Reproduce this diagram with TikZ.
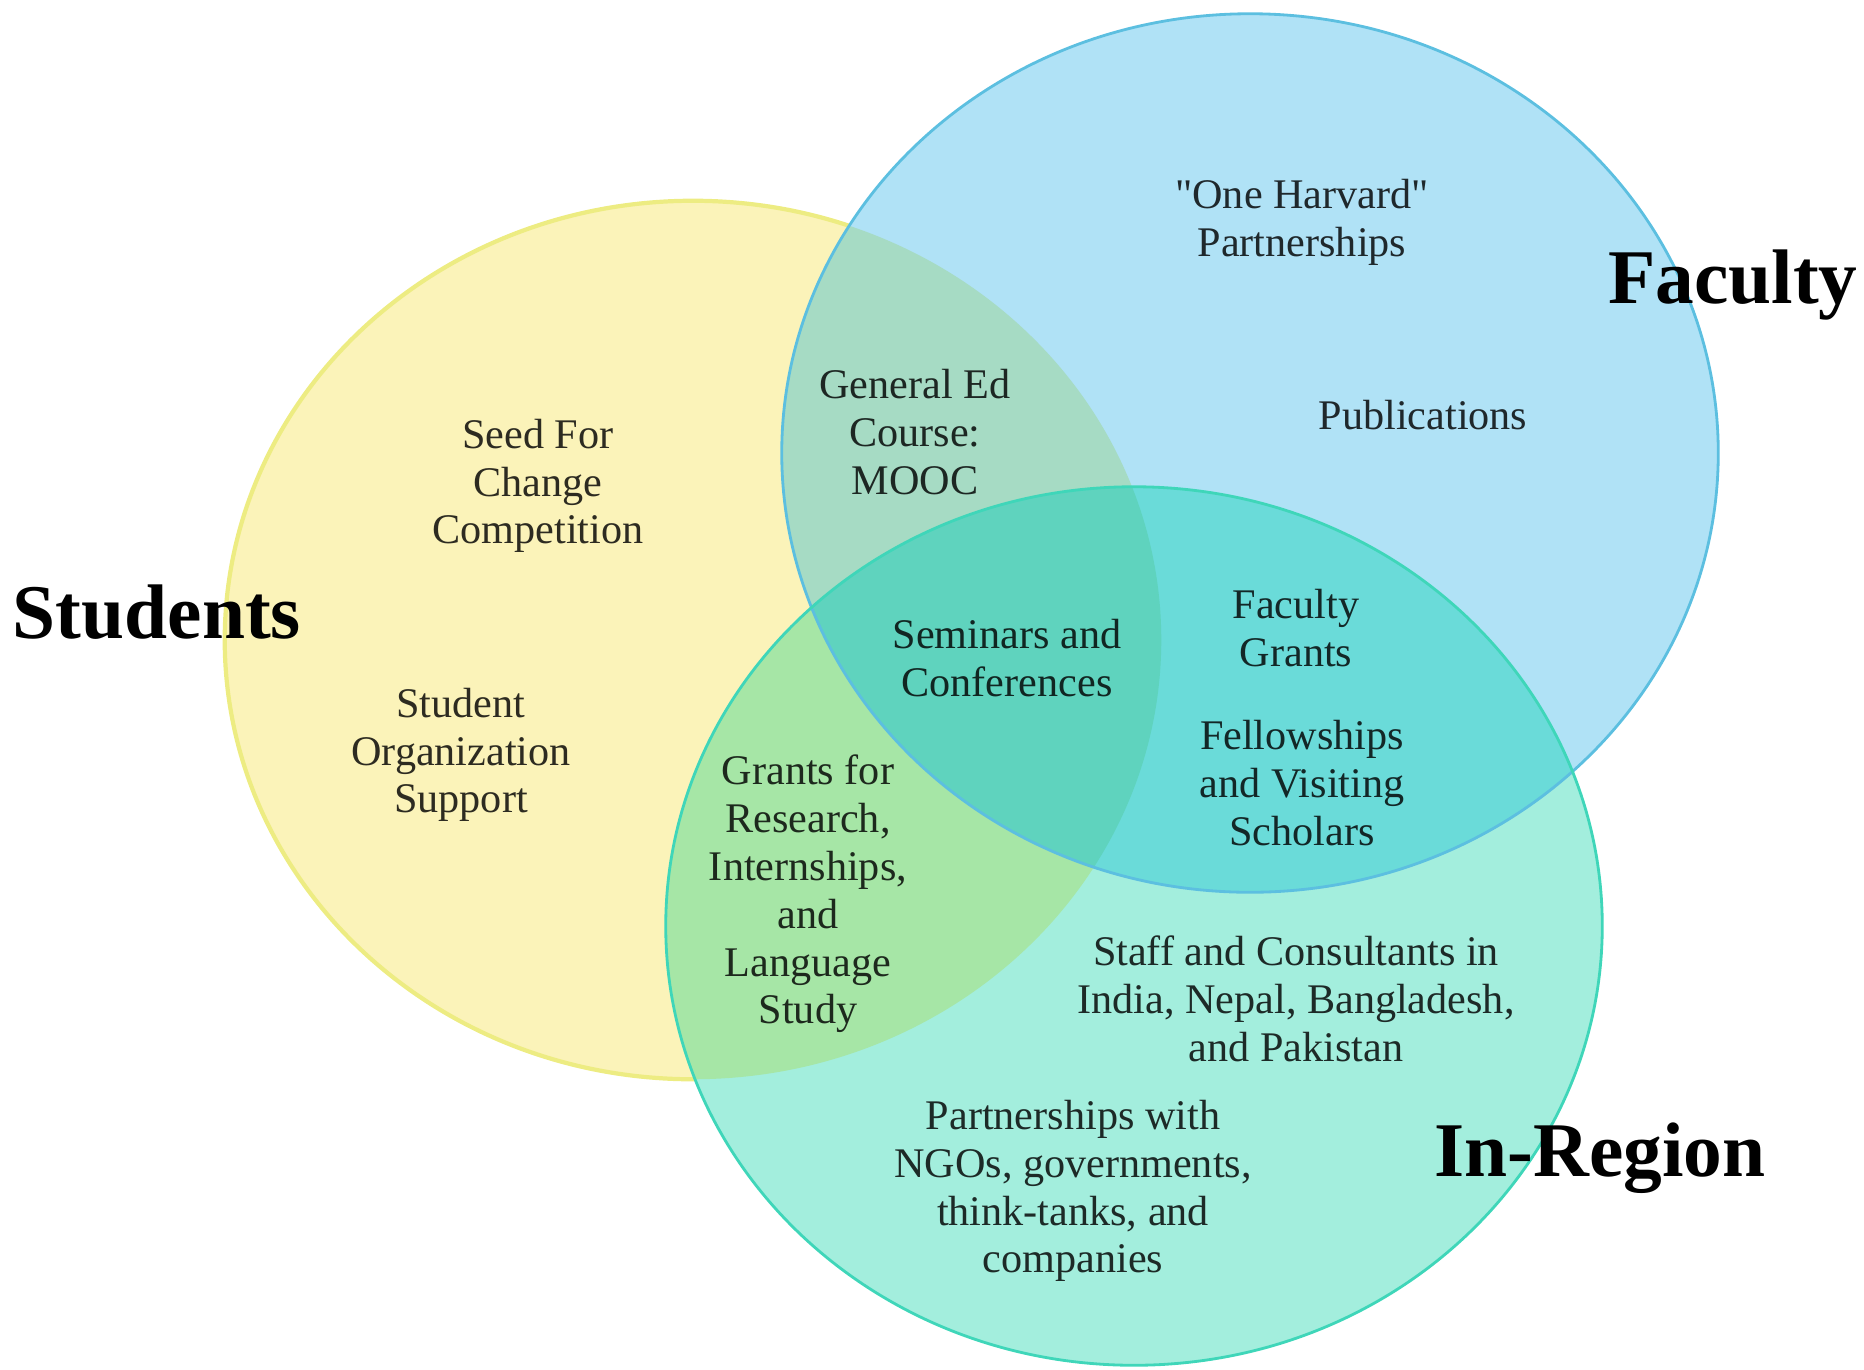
\documentclass[tikz,border=0pt]{standalone}
\usepackage{fontspec}
\setmainfont{Liberation Serif}
\newfontfamily\rawserif{Liberation Serif}
\usetikzlibrary{positioning}
\definecolor{stuFill}{HTML}{FBF3B9}
\definecolor{facFill}{HTML}{B0E2F6}
\definecolor{regFill}{HTML}{A3EEDD}
\definecolor{stuFac}{HTML}{A6DBC4}
\definecolor{stuReg}{HTML}{A6E6A6}
\definecolor{facReg}{HTML}{6ADBD9}
\definecolor{allThree}{HTML}{5FD3BE}
\definecolor{stuLine}{HTML}{EDEC82}
\definecolor{facLine}{HTML}{5CBFE0}
\definecolor{regLine}{HTML}{3FD6B9}
\newcommand{\sq}{{\rawserif\symbol{34}}}

\begin{document}
\begin{tikzpicture}[x=0.01cm, y=-0.01cm,
    ring/.style={x radius=4.68cm, y radius=4.39cm},
    item/.style={align=center, font=\fontsize{12}{13.6}\selectfont, text=black, text opacity=0.82},
    group/.style={font=\fontsize{22}{24}\selectfont\bfseries}]
    \useasboundingbox (0,0) rectangle (1864,1369);

    \coordinate (cS) at (693,640);
    \coordinate (cF) at (1250,453);
    \coordinate (cR) at (1134,926);

    % plain circles
    \fill[stuFill] (cS) ellipse[ring];
    \draw[stuLine, line width=1.2pt] (cS) ellipse[ring];
    \fill[facFill] (cF) ellipse[ring];
    \fill[regFill] (cR) ellipse[ring];

    % overlaps
    \begin{scope}
      \clip (cS) ellipse[ring];
      \fill[stuFac] (cF) ellipse[ring];
      \fill[stuReg] (cR) ellipse[ring];
    \end{scope}
    \begin{scope}
      \clip (cF) ellipse[ring];
      \fill[facReg] (cR) ellipse[ring];
    \end{scope}
    \begin{scope}
      \clip (cS) ellipse[ring];
      \clip (cF) ellipse[ring];
      \fill[allThree] (cR) ellipse[ring];
    \end{scope}

    \draw[facLine, line width=0.8pt] (cF) ellipse[ring];
    \draw[regLine, line width=0.8pt] (cR) ellipse[ring];

    % labels
    \node[group] (lblStudents) at (157,612) {Students};
    \node[group] (lblFaculty) at (1733,285) {Faculty};
    \node[group] (lblRegion) at (1600,1158) {In-Region};

    \node[item] (seed) at (538,486) {Seed For\\Change\\Competition};
    \node[item] (orgs) at (461,755) {Student\\Organization\\Support};
    \node[item] (gened) at (915,432) {General Ed\\Course:\\MOOC};
    \node[item] (harvard) at (1302,222) {\sq One Harvard\sq\\Partnerships};
    \node[item] (pubs) at (1423,415) {Publications};
    \node[item] (seminars) at (1007,658) {Seminars and\\Conferences};
    \node[item] (facgrants) at (1296,628) {Faculty\\Grants};
    \node[item] (fellows) at (1302,783) {Fellowships\\and Visiting\\Scholars};
    \node[item] (grants) at (808,894) {Grants for\\Research,\\Internships,\\and\\Language\\Study};
    \node[item] (staff) at (1296,999) {Staff and Consultants in\\India, Nepal, Bangladesh,\\and Pakistan};
    \node[item] (ngos) at (1073,1191) {Partnerships with\\NGOs, governments,\\think-tanks, and\\companies};
\end{tikzpicture}
\end{document}
